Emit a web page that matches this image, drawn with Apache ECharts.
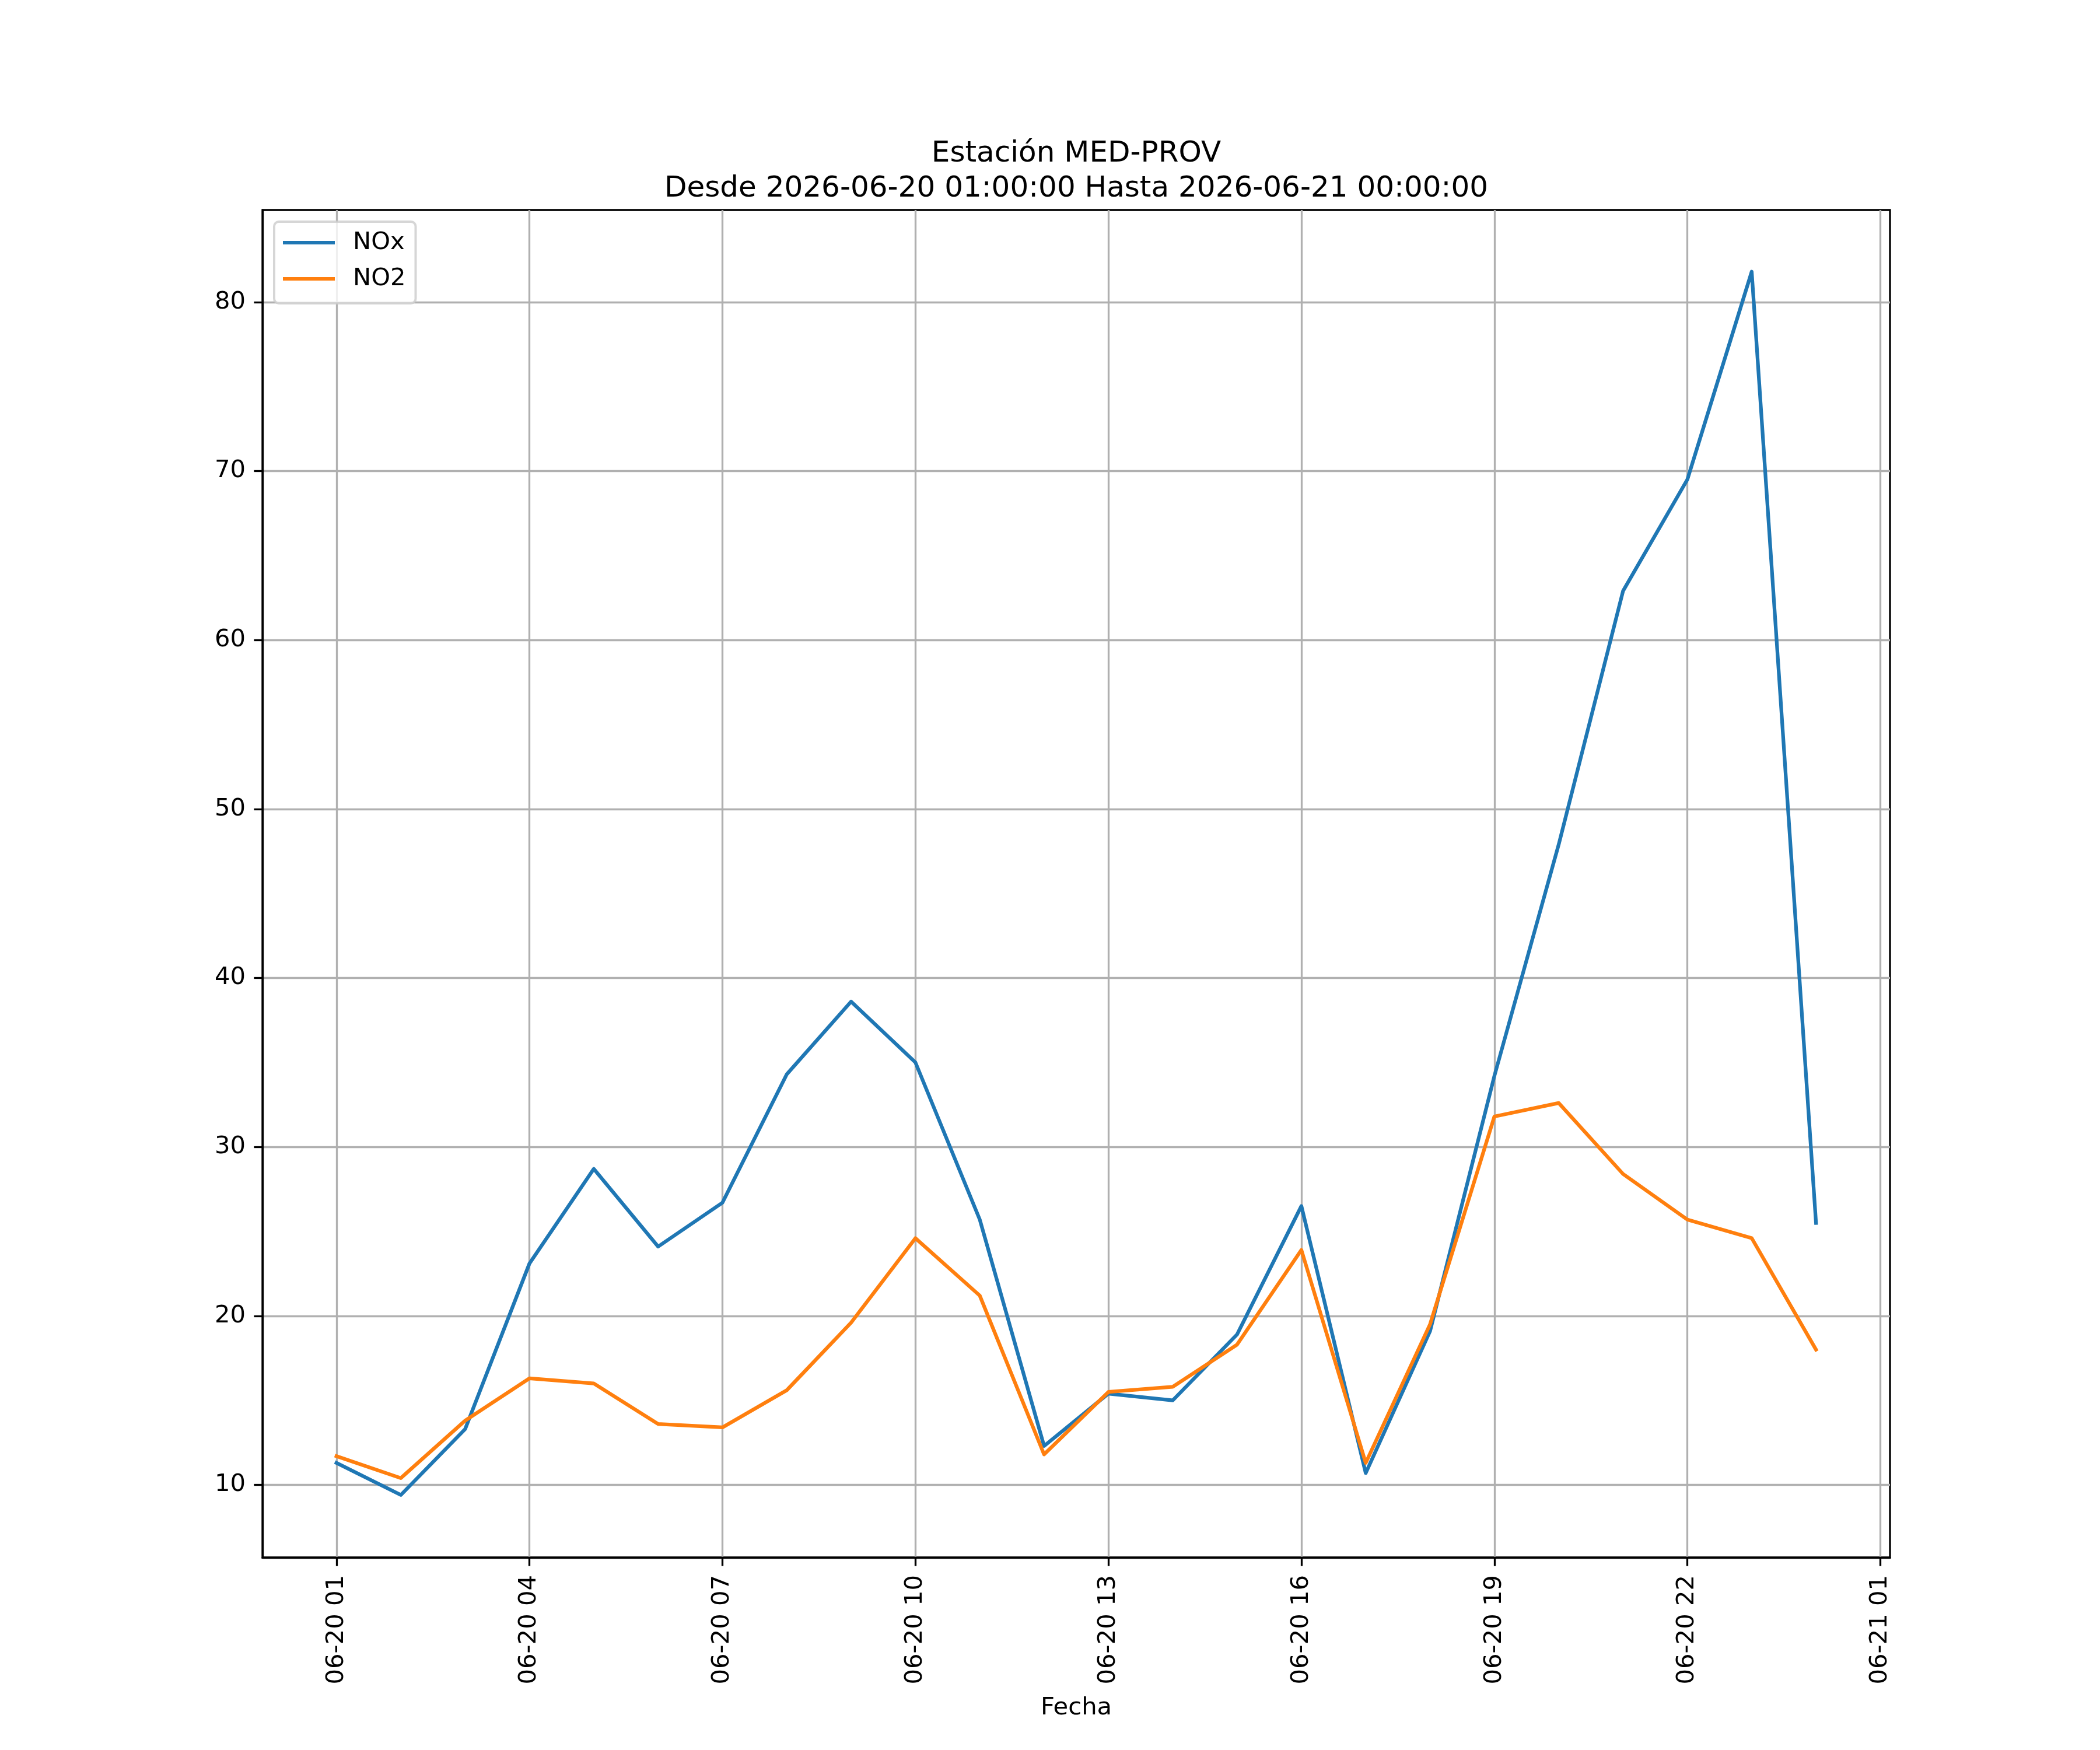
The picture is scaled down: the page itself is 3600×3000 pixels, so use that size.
<!DOCTYPE html>
<html>
<head>
<meta charset="utf-8">
<script src="https://cdn.jsdelivr.net/npm/echarts@6/dist/echarts.min.js"></script>
<style>
  html, body { margin: 0; padding: 0; background: #fff; }
  #main { width: 3600px; height: 3000px; }
</style>
</head>
<body>
<div id="main"></div>
<script>
// datos horarios de la estación
var fechas = [
    '2026-06-20 01:00', '2026-06-20 02:00', '2026-06-20 03:00', '2026-06-20 04:00',
    '2026-06-20 05:00', '2026-06-20 06:00', '2026-06-20 07:00', '2026-06-20 08:00',
    '2026-06-20 09:00', '2026-06-20 10:00', '2026-06-20 11:00', '2026-06-20 12:00',
    '2026-06-20 13:00', '2026-06-20 14:00', '2026-06-20 15:00', '2026-06-20 16:00',
    '2026-06-20 17:00', '2026-06-20 18:00', '2026-06-20 19:00', '2026-06-20 20:00',
    '2026-06-20 21:00', '2026-06-20 22:00', '2026-06-20 23:00', '2026-06-21 00:00'
];
var nox = [11.3, 9.4, 13.3, 23.1, 28.7, 24.1, 26.7, 34.3, 38.6, 35.0, 25.7, 12.3,
           15.4, 15.0, 18.9, 26.5, 10.7, 19.1, 34.2, 47.9, 62.9, 69.5, 81.8, 25.5];
var no2 = [11.7, 10.4, 13.8, 16.3, 16.0, 13.6, 13.4, 15.6, 19.6, 24.6, 21.2, 11.8,
           15.5, 15.8, 18.3, 23.9, 11.3, 19.5, 31.8, 32.6, 28.4, 25.7, 24.6, 18.0];
var xTicks = [
    '2026-06-20 01:00', '2026-06-20 04:00', '2026-06-20 07:00', '2026-06-20 10:00',
    '2026-06-20 13:00', '2026-06-20 16:00', '2026-06-20 19:00', '2026-06-20 22:00',
    '2026-06-21 01:00'
];
var yTicks = [10, 20, 30, 40, 50, 60, 70, 80];

var titulo = 'Estación MED-PROV\nDesde 2026-06-20 01:00:00 Hasta 2026-06-21 00:00:00';

function toTime(s) {
    var p = s.split(/[- :]/);
    return Date.UTC(+p[0], +p[1] - 1, +p[2], +p[3], +p[4]);
}
function pad(n) { return (n < 10 ? '0' : '') + n; }

var HOUR = 3600 * 1000;
var tiempos = fechas.map(toTime);
var xMin = tiempos[0] - 1.15 * HOUR;
var xMax = tiempos[tiempos.length - 1] + 1.15 * HOUR;
var tickTimes = xTicks.map(toTime);

function pares(vals) {
    return vals.map(function (v, i) { return [tiempos[i], v]; });
}

var font = 'DejaVu Sans';
var fs = 41.7;

var myChart = echarts.init(document.getElementById('main'));
option = {
    animation: false,
    backgroundColor: '#fff',
    graphic: [{
        type: 'text',
        x: 1845,
        y: 354,
        style: {
            text: titulo,
            fontFamily: font,
            fontSize: 50,
            lineHeight: 60,
            align: 'center',
            verticalAlign: 'bottom',
            fill: '#000'
        }
    }],
    grid: {
        left: 450,
        right: 360,
        top: 360,
        bottom: 330,
        show: true,
        borderColor: '#000',
        borderWidth: 3.3,
        backgroundColor: 'transparent'
    },
    legend: {
        orient: 'vertical',
        left: 470,
        top: 380,
        icon: 'rect',
        itemWidth: 89,
        itemHeight: 6,
        itemGap: 12,
        padding: [11, 17, 17, 15],
        borderColor: 'rgba(204,204,204,0.8)',
        borderWidth: 4,
        borderRadius: 8,
        backgroundColor: 'rgba(255,255,255,0.8)',
        textStyle: {
            fontFamily: font,
            fontSize: fs,
            lineHeight: 50,
            color: '#000',
            padding: [0, 0, 0, 26]
        },
        data: ['NOx', 'NO2']
    },
    xAxis: {
        type: 'value',
        min: xMin,
        max: xMax,
        name: 'Fecha',
        nameLocation: 'middle',
        nameGap: 237,
        nameTextStyle: { fontFamily: font, fontSize: fs, color: '#000' },
        axisLine: { show: true, lineStyle: { color: '#000', width: 3.3 } },
        axisTick: {
            show: true,
            length: 14.6,
            lineStyle: { color: '#000', width: 3.3 },
            customValues: tickTimes
        },
        axisLabel: {
            rotate: 90,
            margin: 30,
            fontFamily: font,
            fontSize: fs,
            color: '#000',
            customValues: tickTimes,
            formatter: function (v) {
                var d = new Date(v);
                return pad(d.getUTCMonth() + 1) + '-' + pad(d.getUTCDate()) + ' ' + pad(d.getUTCHours());
            }
        },
        splitLine: { show: true, lineStyle: { color: '#b0b0b0', width: 3.3 } }
    },
    yAxis: {
        type: 'value',
        min: 5.7,
        max: 85.45,
        axisLine: { show: true, lineStyle: { color: '#000', width: 3.3 } },
        axisTick: {
            show: true,
            length: 14.6,
            lineStyle: { color: '#000', width: 3.3 },
            customValues: yTicks
        },
        axisLabel: {
            margin: 29,
            fontFamily: font,
            fontSize: fs,
            color: '#000',
            customValues: yTicks
        },
        splitLine: { show: true, lineStyle: { color: '#b0b0b0', width: 3.3 } }
    },
    series: [
        {
            name: 'NOx',
            type: 'line',
            data: pares(nox),
            showSymbol: false,
            symbol: 'none',
            color: '#1f77b4',
            lineStyle: { color: '#1f77b4', width: 6.25, join: 'round', cap: 'square' }
        },
        {
            name: 'NO2',
            type: 'line',
            data: pares(no2),
            showSymbol: false,
            symbol: 'none',
            color: '#ff7f0e',
            lineStyle: { color: '#ff7f0e', width: 6.25, join: 'round', cap: 'square' }
        }
    ]
};
myChart.setOption(option);
</script>
</body>
</html>
